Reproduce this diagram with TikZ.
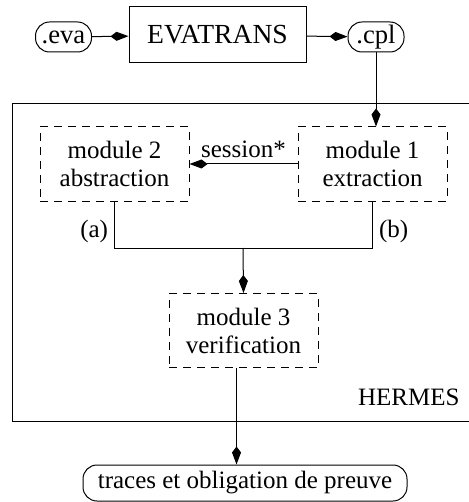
\documentclass[tikz,border=0pt]{standalone}
\usepackage{fontspec}
\setmainfont{Liberation Serif}
\usepackage{tikz}
\usetikzlibrary{arrows.meta}

\begin{document}
\begin{tikzpicture}[x=0.5pt,y=-0.5pt,line width=0.5pt,>={Kite[length=9pt,width=4.5pt,inset=3pt]},font=\fontsize{12.5}{14}\selectfont]
    \tikzstyle{file}=[draw,rounded corners=7pt,inner sep=0pt,minimum width=28pt,minimum height=15pt]
    \tikzstyle{tool}=[draw,inner sep=0pt,minimum width=88.5pt,minimum height=28pt,font=\fontsize{13.8}{15}\selectfont]
    \tikzstyle{module}=[draw,dash pattern=on 4pt off 3pt,align=center,inner sep=0pt,minimum width=74.5pt,minimum height=37pt]
    \tikzstyle{annot}=[inner sep=3pt]
    \useasboundingbox (0,0) rectangle (468,502);

    % the chain in front of HERMES
    \node[file,font=\fontsize{13.3}{14}\selectfont] (eva) at (63.5,37) {.eva};
    \node[tool] (evatrans) at (217.5,35) {EVATRANS};
    \node[file,font=\fontsize{13.3}{14}\selectfont] (cpl) at (376,37) {.cpl};
    \draw[->] (eva) -- (evatrans);
    \draw[->] (evatrans) -- (cpl);

    % HERMES frame, runs out on the right
    \draw (480,104) -- (12,104) -- (12,421) -- (480,421);
    \node[annot,anchor=east] (hermes) at (466,397) {HERMES};

    % the three modules
    \node[module] (mod2) at (114.5,164) {module 2\\abstraction};
    \node[module] (mod1) at (372.5,164) {module 1\\extraction};
    \node[module] (mod3) at (243.5,330.5) {module 3\\verification};
    \node[file,minimum width=162pt,minimum height=18pt] (out) at (245,483) {traces et obligation de preuve};

    \draw[->] (cpl.south) -- (cpl.south |- mod1.north);
    \draw[->] (mod1.west) -- node[annot,above] (sess) {session*} (mod2.east);
    \coordinate (join) at (243,248);
    \draw (mod2.south) -- node[annot,left,pos=0.65] (a) {(a)} (mod2.south |- join)
        -- (mod1.south |- join) -- node[annot,right,pos=0.35] (b) {(b)} (mod1.south);
    \draw[->] (join) -- (mod3.north);
    \draw[->] ([xshift=-3.5pt]mod3.south) -- ([xshift=-3.5pt]mod3.south |- out.north);
\end{tikzpicture}
\end{document}
